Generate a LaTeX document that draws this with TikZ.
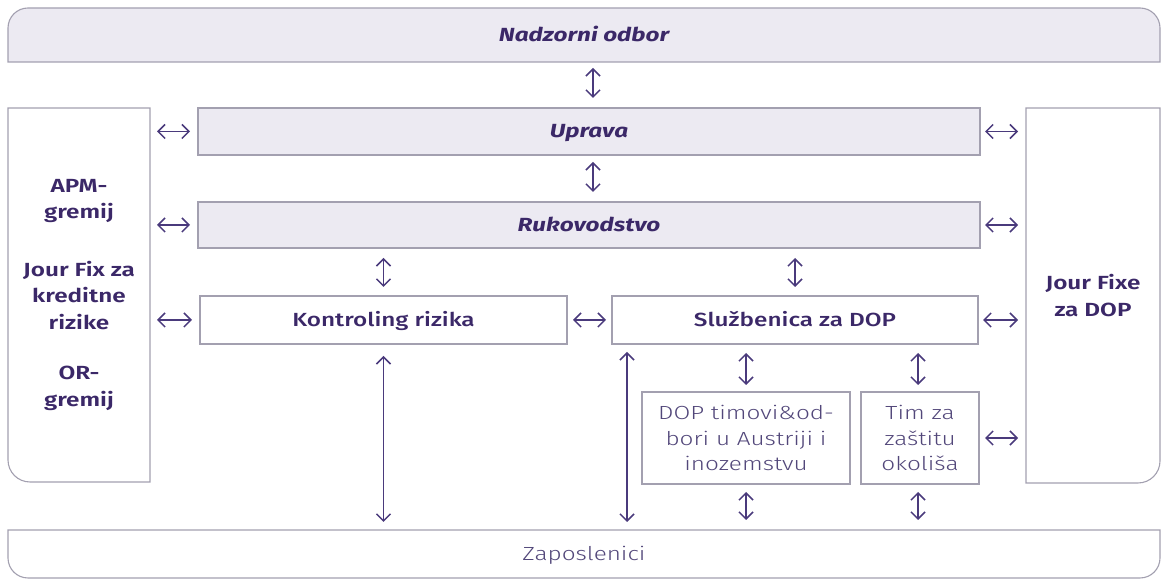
\documentclass[tikz,border=0pt]{standalone}
\usepackage{fontspec}
\usetikzlibrary{arrows.meta,backgrounds}
\newcommand\pickfont[3]{%
  \IfFontExistsTF{#2}{\newfontfamily#1{#2}[FakeStretch=1.28]}{%
    \IfFontExistsTF{#3}{\newfontfamily#1{#3}[FakeStretch=1.28]}{%
      \newfontfamily#1{Fira Sans}[FakeStretch=1.28]}}}
\pickfont\lightf{FiraSans-Light.otf}{Fira Sans Light}
\pickfont\medf{FiraSans-Medium.otf}{Fira Sans Medium}
\pickfont\semif{FiraSans-SemiBold.otf}{Fira Sans SemiBold}
\pickfont\bitf{FiraSans-BoldItalic.otf}{Fira Sans Bold Italic}
\definecolor{txt}{HTML}{3B2868}
\definecolor{ltxt}{HTML}{52477A}
\definecolor{arr}{HTML}{4A3A7C}
\definecolor{lav}{HTML}{ECEAF2}
\definecolor{frm}{HTML}{A3A0B0}
\begin{document}
\begin{tikzpicture}[x=1pt,y=1pt,
  area/.style={inner sep=0pt, outer sep=0pt, align=center, text=txt},
  one/.style={text height=13pt, text depth=0pt},
  sq/.style={area, draw=frm, line width=1.1pt},
  frame/.style={draw=frm, line width=1.1pt},
  hfont/.style={font=\bitf\fontsize{19}{25}\selectfont},
  mfont/.style={font=\medf\fontsize{19}{25}\selectfont},
  sfont/.style={font=\semif\fontsize{19}{26.5}\selectfont},
  lfont/.style={font=\lightf\fontsize{19}{25.5}\selectfont, text=ltxt},
  dbl/.style={draw=arr, line width=1.5pt,
    {Straight Barb[length=7pt,width=14pt]}-{Straight Barb[length=7pt,width=14pt]}}
]
\useasboundingbox (0,0) rectangle (1165,580);

% nodes
\node[area, one, hfont, minimum width=1152pt, minimum height=54pt] (nad) at (584,545) {Nadzorni odbor};
\node[sq, one, fill=lav, hfont, minimum width=782pt, minimum height=47pt] (upr) at (589,448.5) {Uprava};
\node[sq, one, fill=lav, hfont, minimum width=782pt, minimum height=46pt] (ruk) at (589,355) {Rukovodstvo};
\node[sq, one, fill=white, mfont, minimum width=367pt, minimum height=48pt] (kon) at (383.5,260) {Kontroling rizika};
\node[sq, one, fill=white, mfont, minimum width=366pt, minimum height=48pt] (slu) at (795,260) {Službenica za DOP};
\node[sq, fill=white, lfont, minimum width=208pt, minimum height=92pt] (dop) at (746,142) {DOP timovi\&od-\\bori u Austriji i\\inozemstvu};
\node[sq, fill=white, lfont, minimum width=118pt, minimum height=92pt] (tim) at (920,142) {Tim za\\zaštitu\\okoliša};
\node[area, one, lfont, minimum width=1152pt, minimum height=48pt] (zap) at (584,26) {Zaposlenici};
\node[area, sfont, minimum width=142pt, minimum height=374pt] (lft) at (79,285) {APM-\\gremij\\[31pt]Jour Fix za\\kreditne\\rizike\\[24pt]OR-\\gremij};
\node[area, sfont, minimum width=134pt, minimum height=375pt] (rgt) at (1093,284.5) {Jour Fixe\\za DOP};

% rounded frames
\begin{scope}[on background layer]
\draw[frame, fill=lav] (nad.south west) -- ([yshift=-20pt]nad.north west)
  arc[start angle=180, end angle=90, radius=20pt] -- ([xshift=-20pt]nad.north east)
  arc[start angle=90, end angle=0, radius=20pt] -- (nad.south east) -- cycle;
\draw[frame, fill=white] (lft.north west) -- ([yshift=22pt]lft.south west)
  arc[start angle=180, end angle=270, radius=22pt] -- (lft.south east) -- (lft.north east) -- cycle;
\draw[frame, fill=white] (rgt.north west) -- (rgt.south west) -- ([xshift=-22pt]rgt.south east)
  arc[start angle=270, end angle=360, radius=22pt] -- (rgt.north east) -- cycle;
\draw[frame, fill=white] (zap.north west) -- ([yshift=20pt]zap.south west)
  arc[start angle=180, end angle=270, radius=20pt] -- ([xshift=-20pt]zap.south east)
  arc[start angle=270, end angle=360, radius=20pt] -- (zap.north east) -- cycle;
\end{scope}

% vertical connectors
\draw[dbl, shorten <=6pt, shorten >=10pt] ([xshift=4pt]upr.north |- nad.south) -- ([xshift=4pt]upr.north);
\draw[dbl, shorten <=7pt, shorten >=10pt] ([xshift=4pt]upr.south) -- ([xshift=4pt]upr.south |- ruk.north);
\draw[dbl, shorten <=10pt, shorten >=9pt] (kon.north |- ruk.south) -- (kon.north);
\draw[dbl, shorten <=10pt, shorten >=9pt] (slu.north |- ruk.south) -- (slu.north);
\draw[dbl, shorten <=9pt, shorten >=7pt] (dop.north |- slu.south) -- (dop.north);
\draw[dbl, shorten <=9pt, shorten >=7pt] ([xshift=-2pt]tim.north |- slu.south) -- ([xshift=-2pt]tim.north);
\draw[dbl, shorten <=8pt, shorten >=10pt] (dop.south) -- (dop.south |- zap.north);
\draw[dbl, shorten <=8pt, shorten >=10pt] ([xshift=-2pt]tim.south) -- ([xshift=-2pt]tim.south |- zap.north);
\draw[dbl, shorten <=12pt, shorten >=8pt] (kon.south) -- (kon.south |- zap.north);
\draw[dbl, shorten <=8pt, shorten >=8pt] ([xshift=15pt]slu.south west) -- ([xshift=15pt]slu.south west |- zap.north);

% horizontal connectors
\draw[dbl, shorten <=7pt, shorten >=8pt] (lft.east |- upr.west) -- (upr.west);
\draw[dbl, shorten <=7pt, shorten >=8pt] (lft.east |- ruk.west) -- (ruk.west);
\draw[dbl, shorten <=7pt, shorten >=8pt] (lft.east |- kon.west) -- (kon.west);
\draw[dbl, shorten <=6pt, shorten >=6pt] (kon.east) -- (slu.west);
\draw[dbl, shorten <=5pt, shorten >=8pt] (upr.east) -- (rgt.west |- upr.east);
\draw[dbl, shorten <=5pt, shorten >=8pt] (ruk.east) -- (rgt.west |- ruk.east);
\draw[dbl, shorten <=5pt, shorten >=8pt] (slu.east) -- (rgt.west |- slu.east);
\draw[dbl, shorten <=6pt, shorten >=8pt] (tim.east) -- (rgt.west |- tim.east);
\end{tikzpicture}
\end{document}
